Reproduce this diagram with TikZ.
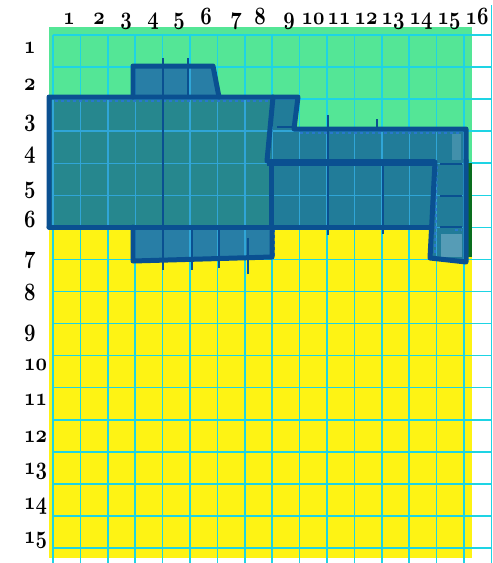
\documentclass[tikz,border=0pt]{standalone}
\definecolor{bggreen}{RGB}{84,230,150}
\definecolor{bgyellow}{RGB}{254,243,20}
\definecolor{gridcyan}{RGB}{30,212,228}
\definecolor{gridin}{RGB}{48,165,215}
\definecolor{edgeblue}{RGB}{10,80,145}
\definecolor{fillA}{RGB}{38,135,142}
\definecolor{fillB}{RGB}{33,124,153}
\definecolor{fillC}{RGB}{40,126,166}
\definecolor{darkstrip}{RGB}{10,110,30}
\definecolor{lightedge}{RGB}{40,120,205}
\definecolor{patch}{RGB}{100,165,190}
\newcommand\numtxt[1]{\scalebox{0.8}[1]{#1}}
\begin{document}
\begin{tikzpicture}[x=1pt,y=-1pt,
  numlbl/.style={font=\fontencoding{OML}\fontfamily{cmm}\fontseries{b}\fontshape{it}\fontsize{26}{26}\selectfont,inner sep=0pt,text=black},
  gridline/.style={draw=gridcyan,line width=1.6pt},
  gridinner/.style={draw=gridin,line width=1.4pt},
  thickedge/.style={draw=edgeblue,line width=5pt,line join=round,line cap=round},
  thinedge/.style={draw=edgeblue,line width=2pt},
  dashedge/.style={draw=lightedge,line width=2pt,dashed}]
\useasboundingbox (0,0) rectangle (493,563);
% backgrounds
\fill[bggreen] (49,27) rectangle (472,227);
\fill[bgyellow] (49,227) rectangle (472,558);
% grid
\foreach \k in {0,...,15} { \draw[gridline] ({53+27.4*\k},35) -- ({53+27.4*\k},563); }
\draw[gridline] (491.4,5) -- (491.4,563);
\foreach \k in {0,...,16} { \draw[gridline] (53,{35+32.06*\k}) -- (491.4,{35+32.06*\k}); }
% dark strip at right
\fill[darkstrip] (464,163) rectangle (472,257);
% fills
\fill[fillA] (49,97) rectangle (271,227);
\fill[fillC] (133,97) -- (133,66) -- (213,66) -- (219,97) -- cycle;
\fill[fillB] (271,97) -- (298,97) -- (294,129) -- (466,129) -- (466,262) -- (430,258) -- (432,227) -- (271,227) -- cycle;
\fill[fillC] (133,227) -- (133,261) -- (272,257) -- (272,227) -- cycle;
% grid seen through the shapes
\begin{scope}
  \clip (49,97) -- (133,97) -- (133,66) -- (213,66) -- (219,97) -- (298,97) -- (294,129) -- (466,129) -- (466,262) -- (430,258) -- (432,227) -- (272,227) -- (272,257) -- (133,261) -- (133,227) -- (49,227) -- cycle;
  \foreach \k in {0,...,16} { \draw[gridinner] ({53+27.4*\k},35) -- ({53+27.4*\k},563); }
  \foreach \k in {0,...,16} { \draw[gridinner] (53,{35+32.06*\k}) -- (491.4,{35+32.06*\k}); }
\end{scope}
% light patch in the right column
\fill[patch,opacity=0.8] (441,234) rectangle (462,257);
\fill[patch,opacity=0.5] (452,134) rectangle (461,160);
% dashed inner edges
\draw[dashedge] (55,101) -- (268,101);
\draw[dashedge] (300,133) -- (462,133);
\draw[dashedge] (274,229) -- (274,256);
\draw[dashedge] (437,166) -- (435,255);
\draw[dashedge] (455,230) -- (462,230);
% thick outlines
\draw[thickedge] (133,97) -- (133,66) -- (213,66) -- (219,97);
\draw[thickedge] (49,227) -- (49,97) -- (298,97) -- (294,129) -- (466,129) -- (466,162);
\draw[thickedge] (273,97) -- (267,161);
\draw[thickedge] (271,162) -- (271,227);
\draw[draw=edgeblue,line width=7pt,line join=round] (267,162) -- (435,162);
\draw[thickedge] (435,162) -- (430,258) -- (466,262) -- (466,160);
\draw[thickedge] (49,227) -- (432,227);
\draw[thickedge] (133,227) -- (133,261) -- (272,257) -- (272,231);
% thin division lines
\draw[thinedge] (163,58) -- (163,270);
\draw[thinedge] (188,58) -- (188,97);
\draw[thinedge] (192,227) -- (192,270);
\draw[thinedge] (219,227) -- (219,268);
\draw[thinedge] (248,238) -- (248,274);
\draw[thinedge] (328,115) -- (328,235);
\draw[thinedge] (377,119) -- (377,131);
\draw[thinedge] (383,162) -- (383,234);
\draw[thinedge] (277,127) -- (294,127);
\draw[thinedge] (440,164) -- (462,164);
\draw[thinedge] (440,196) -- (462,196);
\draw[thinedge] (440,227) -- (462,227);
% column labels
\node[numlbl,anchor=base] (c1) at (69,24) {\numtxt{1}};
\node[numlbl,anchor=base] (c2) at (99,24) {\numtxt{2}};
\node[numlbl,anchor=base] (c3) at (126,24) {\numtxt{3}};
\node[numlbl,anchor=base] (c4) at (153,24) {\numtxt{4}};
\node[numlbl,anchor=base] (c5) at (179,24) {\numtxt{5}};
\node[numlbl,anchor=base] (c6) at (206,24) {\numtxt{6}};
\node[numlbl,anchor=base] (c7) at (236,24) {\numtxt{7}};
\node[numlbl,anchor=base] (c8) at (260,24) {\numtxt{8}};
\node[numlbl,anchor=base] (c9) at (289,24) {\numtxt{9}};
\node[numlbl,anchor=base] (c10) at (313,24) {\numtxt{10}};
\node[numlbl,anchor=base] (c11) at (339,24) {\numtxt{11}};
\node[numlbl,anchor=base] (c12) at (366,24) {\numtxt{12}};
\node[numlbl,anchor=base] (c13) at (393,24) {\numtxt{13}};
\node[numlbl,anchor=base] (c14) at (421,24) {\numtxt{14}};
\node[numlbl,anchor=base] (c15) at (449,24) {\numtxt{15}};
\node[numlbl,anchor=base] (c16) at (477,24) {\numtxt{16}};
% row labels
\node[numlbl,anchor=base west] (r1) at (24,53) {\numtxt{1}};
\node[numlbl,anchor=base west] (r2) at (24,90) {\numtxt{2}};
\node[numlbl,anchor=base west] (r3) at (24,126) {\numtxt{3}};
\node[numlbl,anchor=base west] (r4) at (24,158) {\numtxt{4}};
\node[numlbl,anchor=base west] (r5) at (24,193) {\numtxt{5}};
\node[numlbl,anchor=base west] (r6) at (24,227) {\numtxt{6}};
\node[numlbl,anchor=base west] (r7) at (24,263) {\numtxt{7}};
\node[numlbl,anchor=base west] (r8) at (24,300) {\numtxt{8}};
\node[numlbl,anchor=base west] (r9) at (24,336) {\numtxt{9}};
\node[numlbl,anchor=base west] (r10) at (24,370) {\numtxt{10}};
\node[numlbl,anchor=base west] (r11) at (24,405) {\numtxt{11}};
\node[numlbl,anchor=base west] (r12) at (24,442) {\numtxt{12}};
\node[numlbl,anchor=base west] (r13) at (24,474) {\numtxt{13}};
\node[numlbl,anchor=base west] (r14) at (24,509) {\numtxt{14}};
\node[numlbl,anchor=base west] (r15) at (24,543) {\numtxt{15}};
\end{tikzpicture}
\end{document}
